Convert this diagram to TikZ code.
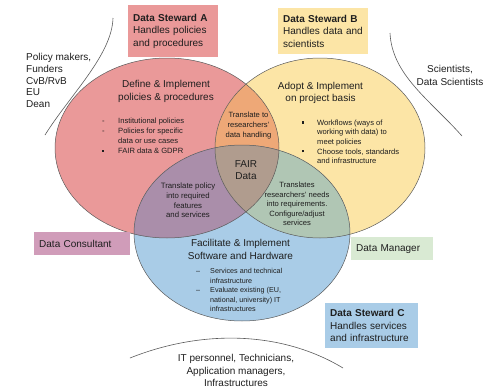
\documentclass[tikz,border=0pt]{standalone}
\usepackage{fontspec}
\setmainfont{Liberation Sans}
\definecolor{txtc}{HTML}{1E1E1E}
\definecolor{linec}{HTML}{5A5A5A}
\definecolor{redc}{HTML}{EA9999}
\definecolor{yelc}{HTML}{FCE5A6}
\definecolor{bluc}{HTML}{A9CCE7}
\definecolor{orc}{HTML}{EEA877}
\definecolor{purc}{HTML}{AA8EAA}
\definecolor{grnc}{HTML}{B0C6B4}
\definecolor{cenc}{HTML}{B09C8E}
\definecolor{consc}{HTML}{D09CB9}
\definecolor{mgrc}{HTML}{D9EAD3}
\newcommand{\vennR}{(167,148) ellipse [x radius=112, y radius=90]}
\newcommand{\vennY}{(320,148) ellipse [x radius=105, y radius=90]}
\newcommand{\vennB}{(242,233) ellipse [x radius=108, y radius=88]}
\newcommand{\sqbul}{\rule[1.6pt]{2.2pt}{2.2pt}}
\begin{document}
\begin{tikzpicture}[x=1pt,y=-1pt,
  txt/.style={inner sep=0pt, text=txtc, font=\fontsize{10}{12.3}\selectfont},
  small/.style={inner sep=0pt, text=txtc, font=\fontsize{7.8}{9.8}\selectfont},
  rolebox/.style={anchor=north west, inner xsep=5pt, inner ysep=0pt, align=left, text=txtc,
     font=\fontsize{10}{12.3}\selectfont},
  outline/.style={draw=linec, line width=0.5pt},
  bracecurve/.style={draw=linec, line width=0.6pt}]
\useasboundingbox (0,0) rectangle (485,388);
% circles
\fill[redc] \vennR;
\fill[yelc] \vennY;
\fill[bluc] \vennB;
\begin{scope}\clip \vennR; \fill[orc] \vennY;\end{scope}
\begin{scope}\clip \vennR; \fill[purc] \vennB;\end{scope}
\begin{scope}\clip \vennY; \fill[grnc] \vennB;\end{scope}
\begin{scope}\clip \vennR; \clip \vennY; \fill[cenc] \vennB;\end{scope}
\path[outline] \vennR;
\path[outline] \vennY;
\path[outline] \vennB;
% role boxes
\node[rolebox, fill=redc, text width=80pt, minimum height=52pt] (dsA) at (128,5)
  {\textbf{Data Steward A}\\Handles policies\\and procedures};
\node[rolebox, fill=yelc, text width=80pt, minimum height=46pt] (dsB) at (278,8)
  {\textbf{Data Steward B}\\Handles data and\\scientists};
\node[rolebox, fill=consc, text width=86pt, minimum height=23pt] (cons) at (34,232)
  {Data Consultant};
\node[rolebox, fill=mgrc, text width=72pt, minimum height=23pt] (mgr) at (351,237)
  {Data Manager};
\node[rolebox, fill=bluc, text width=83pt, minimum height=45pt] (dsC) at (325,303)
  {\textbf{Data Steward C}\\Handles services\\and infrastructure};
% stakeholder groups
\coordinate (lcA) at (113,18);
\coordinate (lcB) at (45,135);
\draw[bracecurve] (lcA) .. controls (112,55) and (70,95) .. (lcB);
\coordinate (rcA) at (390,33);
\coordinate (rcB) at (462,136);
\draw[bracecurve] (rcA) .. controls (392,75) and (430,100) .. (rcB);
\coordinate (bcA) at (130,358);
\coordinate (bcB) at (343,368);
\draw[bracecurve] (bcA) .. controls (200,330) and (280,330) .. (bcB);
\node[txt, anchor=west, align=left, font=\fontsize{10}{11.8}\selectfont] (pol) at (26,80.5)
  {Policy makers,\\Funders\\CvB/RvB\\EU\\Dean};
\node[txt, align=center] (sci) at (450,75.5) {Scientists,\\Data Scientists};
\node[txt, align=center, font=\fontsize{10}{12.5}\selectfont] (itp) at (236,370.5)
  {IT personnel, Technicians,\\Application managers,\\Infrastructures};
% circle titles
\node[txt, align=center, font=\fontsize{10}{12.5}\selectfont] (defT) at (166,91.5)
  {Define \& Implement\\policies \& procedures};
\node[txt, align=center, font=\fontsize{10}{12}\selectfont] (adoT) at (320.5,92.5)
  {Adopt \& Implement\\on project basis};
\node[txt, align=center, font=\fontsize{10}{12.5}\selectfont] (facT) at (240.5,249.5)
  {Facilitate \& Implement\\Software and Hardware};
\node[txt, align=center, font=\fontsize{10}{11.5}\selectfont] (fair) at (246,170)
  {FAIR\\Data};
% intersections
\node[small, align=center, font=\fontsize{7.6}{10}\selectfont] (ry) at (248.5,126)
  {Translate to\\researchers'\\data handling};
\node[small, align=center, font=\fontsize{7.8}{9.7}\selectfont] (rb) at (188,200.5)
  {Translate policy\\into required\\features\\and services};
\node[small, align=center, font=\fontsize{7.6}{9.6}\selectfont] (yb) at (297,204)
  {Translates\\researchers' needs\\into requirements.\\Configure/adjust\\services};
% lists
\node[small, anchor=west, font=\fontsize{7.6}{10}\selectfont] (redlist) at (102,136.5)
  {\begin{tabular}{@{}l@{}l@{}}\makebox[16pt][l]{-}&Institutional policies\\
   \makebox[16pt][l]{-}&Policies for specific\\ &data or use cases\\
   \makebox[16pt][l]{\sqbul}&FAIR data \& GDPR\end{tabular}};
\node[small, anchor=west, font=\fontsize{7.6}{9.6}\selectfont] (yellist) at (302,142.5)
  {\begin{tabular}{@{}l@{}l@{}}\makebox[15pt][l]{\sqbul}&Workflows (ways of\\
   &working with data) to\\ &meet policies\\
   \makebox[15pt][l]{\sqbul}&Choose tools, standards\\ &and infrastructure\end{tabular}};
\node[small, anchor=west, font=\fontsize{7.2}{9.5}\selectfont] (blulist) at (196,291)
  {\begin{tabular}{@{}l@{}l@{}}\makebox[14pt][l]{--}&Services and technical\\
   &infrastructure\\ \makebox[14pt][l]{--}&Evaluate existing (EU,\\
   &national, university) IT\\ &infrastructures\end{tabular}};
\end{tikzpicture}
\end{document}
